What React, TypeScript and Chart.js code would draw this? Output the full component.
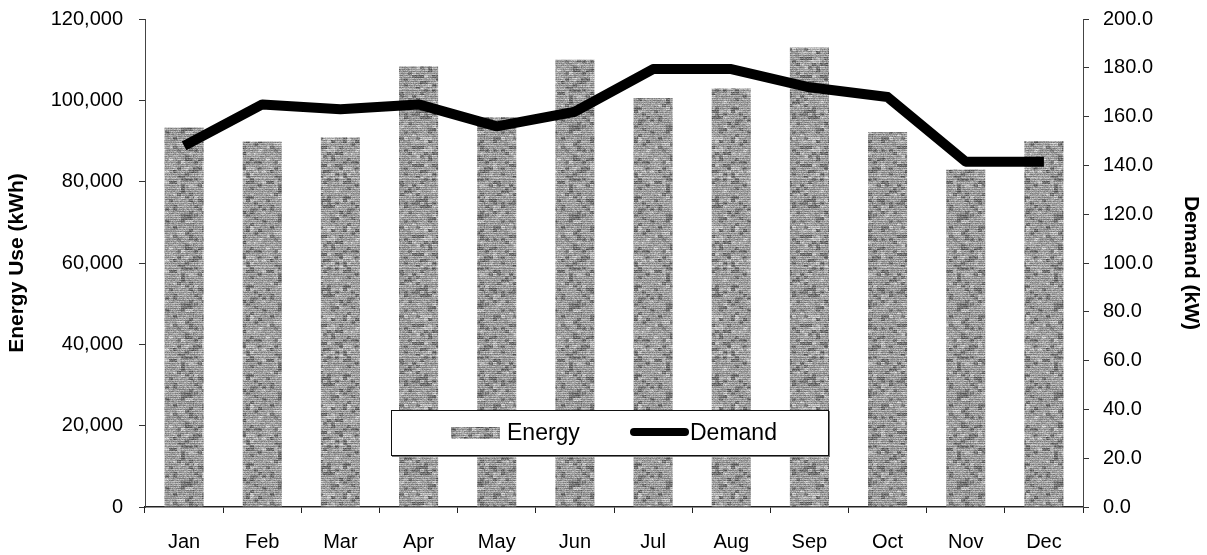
import React, { useEffect, useRef } from "react";
import { Chart, registerables } from "chart.js";

Chart.register(...registerables);

const months = ["Jan", "Feb", "Mar", "Apr", "May", "Jun", "Jul", "Aug", "Sep", "Oct", "Nov", "Dec"];
const energyKWh = [93300, 89900, 90900, 108400, 95900, 110000, 100600, 103000, 113000, 92200, 83000, 90000];
const demandKW = [148, 165, 163, 165, 156, 162, 179.5, 179.5, 172, 168, 141.5, 141.5];
const energyTicks = [0, 20000, 40000, 60000, 80000, 100000, 120000];
const demandTicks = [0, 20, 40, 60, 80, 100, 120, 140, 160, 180, 200];

const FONT = "'Liberation Sans', Arial, sans-serif";

function hash2(a: number, b: number): number {
  let h = (Math.imul(a, 374761393) + Math.imul(b, 668265263)) | 0;
  h = Math.imul(h ^ (h >>> 13), 1274126177);
  h = h ^ (h >>> 16);
  return (h >>> 0) / 4294967296;
}

function makeTexture(): CanvasPattern | string {
  const c = document.createElement("canvas");
  c.width = 97;
  c.height = 89;
  const g = c.getContext("2d");
  if (!g) return "#a0a0a0";
  const img = g.createImageData(c.width, c.height);
  for (let y = 0; y < c.height; y++) {
    const base = y % 2 === 0 ? 0xb4 : 0x8c;
    for (let x = 0; x < c.width; x++) {
      const n = hash2(x, y);
      const blob = hash2(Math.floor(x / 4) + 500, Math.floor(y / 3) + 900);
      let w = base + (n - 0.5) * 50;
      if (blob > 0.78) w -= 40;
      else if (blob < 0.12) w += 25;
      if (n > 0.96) w -= 50;
      w = Math.max(40, Math.min(235, Math.round(w)));
      const i = (y * c.width + x) * 4;
      img.data[i] = w;
      img.data[i + 1] = w;
      img.data[i + 2] = w;
      img.data[i + 3] = 255;
    }
  }
  g.putImageData(img, 0, 0);
  return g.createPattern(c, "repeat") || "#a0a0a0";
}

const legendBoxPlugin = {
  id: "legendBox",
  afterDraw(chart: any) {
    const ctx = chart.ctx as CanvasRenderingContext2D;
    const ds = chart.data.datasets;
    const bx = 391, by = 410, bw = 437, bh = 45;
    ctx.save();
    ctx.fillStyle = "#777";
    ctx.fillRect(bx + 1, by + 1, bw + 1, bh + 1);
    ctx.fillStyle = "#ffffff";
    ctx.fillRect(bx, by, bw, bh);
    ctx.strokeStyle = "#111";
    ctx.lineWidth = 1;
    ctx.strokeRect(bx + 0.5, by + 0.5, bw, bh);

    // Energy swatch
    ctx.fillStyle = ds[0].backgroundColor;
    ctx.fillRect(451, 427, 49, 12);
    ctx.fillStyle = "#000";
    ctx.font = `23px ${FONT}`;
    ctx.textBaseline = "middle";
    ctx.textAlign = "left";
    ctx.fillText(ds[0].label, 507, 434);

    // Demand swatch
    ctx.strokeStyle = "#000";
    ctx.lineWidth = 8;
    ctx.lineCap = "round";
    ctx.beginPath();
    ctx.moveTo(634, 432);
    ctx.lineTo(685, 432);
    ctx.stroke();
    ctx.fillText(ds[1].label, 690, 434);
    ctx.restore();
  },
};

export default function App() {
  const ref = useRef<HTMLCanvasElement | null>(null);

  useEffect(() => {
    if (!ref.current) return;
    const texture = makeTexture();
    const chart = new Chart(ref.current, {
      type: "bar",
      data: {
        labels: months,
        datasets: [
          {
            type: "bar",
            label: "Energy",
            data: energyKWh,
            backgroundColor: texture as any,
            borderWidth: 0,
            barPercentage: 0.5,
            categoryPercentage: 1,
            yAxisID: "y",
            order: 2,
          },
          {
            type: "line",
            label: "Demand",
            data: demandKW,
            borderColor: "#000",
            borderWidth: 10,
            pointRadius: 0,
            tension: 0,
            fill: false,
            borderJoinStyle: "round",
            borderCapStyle: "butt",
            yAxisID: "y1",
            order: 1,
          } as any,
        ],
      },
      options: {
        animation: false,
        responsive: true,
        maintainAspectRatio: false,
        layout: { padding: { top: 19, left: 0, right: 0, bottom: 0 } },
        plugins: {
          legend: { display: false },
          tooltip: { enabled: false },
        },
        scales: {
          x: {
            offset: true,
            grid: {
              display: true,
              offset: true,
              drawOnChartArea: false,
              drawTicks: true,
              tickLength: 6,
              color: "#222",
            },
            border: { display: true, color: "#222", width: 1.5 },
            ticks: {
              color: "#000",
              font: { family: FONT, size: 20 },
              padding: 17,
              maxRotation: 0,
            },
            afterFit(scale: any) {
              scale.height = 48;
            },
          },
          y: {
            position: "left",
            min: 0,
            max: 120000,
            afterBuildTicks(scale: any) {
              scale.ticks = energyTicks.map((v) => ({ value: v }));
            },
            grid: {
              drawOnChartArea: false,
              drawTicks: true,
              tickLength: 6,
              color: "#333",
            },
            border: { display: true, color: "#444", width: 1 },
            ticks: {
              color: "#000",
              font: { family: FONT, size: 20 },
              padding: 16,
              callback: (v: any) => Number(v).toLocaleString("en-US"),
            },
            title: {
              display: true,
              text: "Energy Use (kWh)",
              color: "#000",
              font: { family: FONT, size: 21, weight: "bold" },
              padding: { top: 5, bottom: 0 },
            },
            afterFit(scale: any) {
              scale.width = 145;
              scale.paddingTop = 12;
              scale.paddingBottom = 12;
            },
          },
          y1: {
            position: "right",
            min: 0,
            max: 200,
            afterBuildTicks(scale: any) {
              scale.ticks = demandTicks.map((v) => ({ value: v }));
            },
            grid: {
              drawOnChartArea: false,
              drawTicks: true,
              tickLength: 6,
              color: "#333",
            },
            border: { display: true, color: "#444", width: 1 },
            ticks: {
              color: "#000",
              font: { family: FONT, size: 20 },
              padding: 14,
              callback: (v: any) => Number(v).toFixed(1),
            },
            title: {
              display: true,
              text: "Demand (kW)",
              color: "#000",
              font: { family: FONT, size: 21, weight: "bold" },
              padding: { top: 4, bottom: 0 },
            },
            afterFit(scale: any) {
              scale.width = 124;
              scale.paddingTop = 12;
              scale.paddingBottom = 12;
            },
          },
        },
      },
      plugins: [legendBoxPlugin],
    });
    return () => chart.destroy();
  }, []);

  return (
    <div
      style={{
        position: "fixed",
        left: 0,
        top: 0,
        width: 1207,
        height: 555,
        background: "#fff",
      }}
    >
      <canvas ref={ref} />
    </div>
  );
}
